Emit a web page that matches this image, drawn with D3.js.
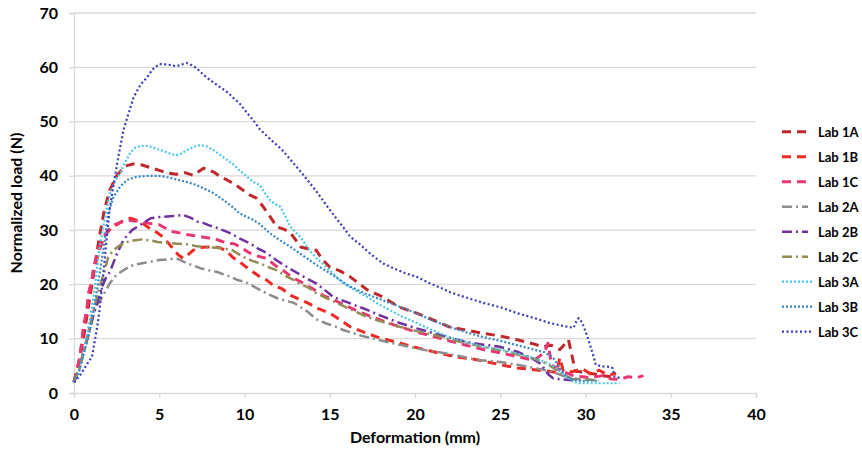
<!DOCTYPE html>
<html><head><meta charset="utf-8">
<script src="https://cdn.jsdelivr.net/npm/d3@7"></script>
<style>body{margin:0;background:#fff}svg{display:block}text{font-family:Lato,"Open Sans",sans-serif;font-weight:bold;fill:#000}</style>
</head><body><svg id="c" width="862" height="463"></svg>
<script>
const xTicks=[0,5,10,15,20,25,30,35,40];
const yTicks=[0,10,20,30,40,50,60,70];
const seriesNames=["Lab 1A","Lab 1B","Lab 1C","Lab 2A","Lab 2B","Lab 2C","Lab 3A","Lab 3B","Lab 3C"];
const lab1A=[[0,2],[0.3,5.5],[0.6,11],[0.9,17],[1.2,23],[1.5,29],[1.8,34],[2.1,37.4],[2.5,40],[3.0,41.8],[3.5,42.2],[4.0,42],[4.5,41.5],[5.0,41],[5.5,40.5],[6.0,40.3],[6.5,40.6],[7.0,40.1],[7.6,41.4],[8.2,40.7],[8.6,39.8],[9.0,39.2],[9.5,38.3],[9.9,37.4],[10.3,36.5],[10.7,35.9],[11.1,34.3],[11.5,32.5],[11.9,30.6],[12.3,30.2],[12.7,29.5],[13.3,26.9],[13.8,26.5],[14.2,26.3],[14.6,24.5],[15,23.2],[15.6,22.5],[16.2,21.4],[16.7,20.2],[17.2,19],[18.1,17.7],[19.1,15.8],[20.1,14.7],[21.1,13.4],[22,12.2],[23,11.6],[24,11],[25,10.5],[26,9.8],[27,9.0],[27.5,8.5],[28,8.8],[28.5,8.0],[29,9.8],[29.2,7],[29.4,4],[30,3.8],[30.5,3.5],[31,3.2],[31.5,3]];
const lab1B=[[0,2],[0.3,6],[0.6,12],[0.9,18],[1.2,23],[1.5,26.5],[1.8,29],[2.2,30.5],[2.5,31],[2.9,31.8],[3.3,32.2],[3.7,31.8],[4.0,31.3],[4.5,30.2],[4.9,29.5],[5.3,28.5],[5.7,27],[6.1,25.5],[6.4,24.8],[6.7,25.5],[7.0,26.3],[7.4,26.8],[7.8,26.9],[8.2,26.9],[8.6,26.7],[9.0,26],[9.3,25],[9.7,24.2],[10.1,23.2],[10.5,22.3],[10.9,21.4],[11.3,20.8],[11.7,19.8],[12.2,19.2],[12.7,18],[13.2,17.3],[13.7,16.6],[14.3,15.6],[15,14.7],[15.6,13.5],[16.2,12.2],[17,11.2],[17.8,10.3],[18.5,9.7],[19.1,9.2],[19.9,8.5],[20.7,7.9],[21.6,7.2],[22.5,6.6],[23.3,6.3],[24,5.9],[25,5.2],[26,4.6],[27,4.3],[27.8,4],[28.3,3.8],[28.5,6.5],[28.7,4],[29.2,3.9],[29.8,4.5],[30.3,3.5],[30.8,4.2],[31.3,3.3],[31.8,3.6]];
const lab1C=[[0,2],[0.2,4.5],[0.35,6.6],[0.45,9.2],[0.55,12.2],[0.75,15.3],[0.85,18.4],[1.05,20.8],[1.15,23.2],[1.4,26],[1.7,28.5],[2.0,30],[2.4,31],[2.8,31.5],[3.2,31.8],[3.6,31.7],[4.0,31.5],[4.5,31.2],[5.0,31],[5.4,30.3],[5.8,29.7],[6.2,29.5],[6.6,29.2],[7.0,29],[7.4,28.8],[7.8,28.6],[8.2,28.5],[8.6,28],[9.0,27.6],[9.4,27.5],[9.8,26.8],[10.3,25.8],[10.8,25.2],[11.3,24.8],[11.8,23.5],[12.3,22.5],[12.8,21.3],[13.3,20.5],[14,19.2],[14.6,18],[15.2,17.2],[16,16],[17,14.6],[18,13.4],[19,12.3],[20,11.3],[21,10.5],[22,9.6],[23,8.8],[24,8],[25,7.4],[26,6.7],[27,6],[27.6,7.5],[27.8,9.2],[28,5.2],[28.3,4.5],[28.8,3.8],[29.3,3.2],[29.8,3],[30.3,2.8],[31,3.2],[31.5,2.6],[32,2.5],[32.5,3],[33,2.8],[33.4,3.2]];
const lab2A=[[0,2],[0.3,4.5],[0.6,8],[0.9,11.5],[1.1,14],[1.3,16],[1.5,16.8],[1.8,18.5],[2.1,20.2],[2.5,21.8],[3.1,23],[3.5,23.6],[4.0,23.9],[4.5,24.2],[5.0,24.5],[5.5,24.6],[6.0,24.8],[6.3,24.4],[6.6,23.9],[7.0,23.5],[7.4,23],[7.9,22.6],[8.4,22.3],[8.8,21.8],[9.2,21.4],[9.6,20.8],[10.1,20.4],[10.5,19.7],[10.9,19],[11.4,18.2],[11.9,17.5],[12.4,17],[12.9,16.6],[13.3,15.8],[13.7,15],[14.2,13.6],[14.8,12.8],[15.3,12.3],[15.8,11.6],[16.8,10.6],[17.8,9.8],[18.8,9.1],[19.7,8.5],[20.6,7.9],[21.6,7.4],[22.6,6.8],[23.6,6.1],[24.4,5.9],[25,5.7],[26,5.2],[27,4.6],[27.8,4.1],[28.3,3.6],[28.8,3],[29.3,2.7],[29.7,2.5]];
const lab2B=[[0,2],[0.3,4.5],[0.6,8],[0.9,11.5],[1.2,15],[1.5,18],[1.7,20],[1.9,21.4],[2.1,22.3],[2.5,25.5],[2.9,28.2],[3.4,30],[3.9,31],[4.5,32.2],[5.0,32.4],[5.8,32.6],[6.4,32.8],[6.9,32.2],[7.2,31.6],[7.6,31.3],[8.0,30.8],[8.4,30.4],[8.8,29.9],[9.2,29.4],[9.7,28.5],[10.3,27.6],[10.8,26.6],[11.3,25.8],[11.9,24.4],[12.5,23.2],[13.1,22.1],[13.6,21.2],[14.2,20.2],[14.7,19],[15.2,17.7],[16.2,16.5],[17.2,15.3],[18.1,14.1],[19.1,12.9],[20.1,11.9],[21.1,11],[22,10.2],[23,9.4],[24,8.9],[25,8.5],[26,7.6],[26.8,6.5],[27.4,5.3],[27.8,3.5],[28.1,2.7],[28.6,2.5],[29.1,2.4],[29.5,2.4]];
const lab2C=[[0,2],[0.3,4.5],[0.6,8],[0.9,12],[1.2,16],[1.5,19.5],[1.8,22.5],[2.0,25],[2.3,26.3],[2.7,27.2],[3.1,27.8],[3.5,28.1],[4.0,28.3],[4.5,28.1],[4.9,27.8],[5.6,27.6],[6.1,27.5],[6.6,27.4],[7.1,27.1],[7.6,26.9],[8.1,26.8],[8.6,26.7],[9.0,26.5],[9.3,26.3],[9.7,25.5],[10.1,24.8],[10.5,24.3],[10.9,23.9],[11.4,23.2],[11.9,22.6],[12.4,21.6],[12.9,20.8],[13.3,20],[13.7,19.5],[14.2,18.4],[14.8,17.5],[15.4,16.6],[16.3,15.3],[17.2,14],[18.1,13.1],[19.1,12.2],[20.1,11.4],[21.1,10.7],[22,9.9],[23,9.2],[24,8.5],[25,7.9],[26,7.1],[27,6.3],[27.8,5.3],[28.3,4.2],[28.8,3.2],[29.2,2.6],[29.7,2.4],[30.2,2.5],[30.7,2.3]];
const lab3A=[[0,2],[0.3,4],[0.6,8],[0.9,13],[1.2,19],[1.5,26.9],[1.8,32],[2.1,36.8],[2.4,39],[2.7,40.5],[3.0,42.5],[3.3,44.2],[3.6,45.2],[3.9,45.5],[4.3,45.5],[4.6,45.3],[5.0,44.8],[5.4,44.4],[5.7,44],[6.0,43.8],[6.3,44.1],[6.6,44.7],[7.0,45.3],[7.4,45.7],[7.8,45.4],[8.2,44.7],[8.6,43.8],[9.0,42.9],[9.4,42],[9.7,41],[10.1,40],[10.5,38.9],[10.9,38.3],[11.2,36.8],[11.5,35.5],[11.8,34.8],[12.1,34.3],[12.4,32.5],[12.7,30.6],[13,29.6],[13.3,28.7],[13.8,26.3],[14.3,24.6],[14.8,23.2],[15.3,21.7],[15.8,20.2],[16.5,18.9],[17.2,17.7],[17.8,16.5],[18.5,15.3],[19.3,14],[20.1,12.9],[21,11.6],[22,10.3],[23,9.4],[24,8.5],[25,8],[26,7.3],[27,6.4],[27.8,5.5],[28.3,4.5],[28.8,3.2],[29.2,2.2],[29.6,1.8],[30.2,1.8],[30.8,1.8],[31.4,1.8],[32,1.8]];
const lab3B=[[0,2],[0.3,4],[0.6,7.5],[0.9,11],[1.2,16],[1.5,22],[1.8,28],[2.0,33],[2.3,36],[2.7,38],[3.1,39.2],[3.6,39.8],[4.3,40],[5.0,40],[5.4,39.8],[5.8,39.5],[6.2,39.2],[6.6,38.9],[7.0,38.5],[7.4,38],[7.8,37.4],[8.2,36.8],[8.6,35.9],[9.0,35],[9.4,34],[9.7,33.1],[10.1,32.5],[10.5,31.9],[10.9,31.1],[11.5,29.4],[12.1,28.1],[12.7,26.9],[13.3,25.6],[13.8,24.5],[14.4,23.2],[15,22.1],[15.6,20.8],[16.2,19.6],[17.1,18.3],[18.1,17.1],[19.1,15.9],[20.1,14.7],[21,13.4],[22,12.2],[23,11.2],[24,10.3],[25,9.6],[26,8.8],[27,8],[27.6,7.5],[28.1,6.5],[28.5,4.5],[28.9,3],[29.3,2.4],[29.8,2.2],[30.3,2.3],[30.8,2.2]];
const lab3C=[[0,2],[0.3,3],[0.6,4.5],[0.9,6],[1.05,6.6],[1.23,9.8],[1.4,13],[1.5,15.3],[1.7,21.4],[1.8,24.5],[1.9,28],[2.0,31],[2.1,34],[2.3,38],[2.6,43.5],[2.9,48.4],[3.2,51.5],[3.5,54.5],[3.9,56.8],[4.3,58.2],[4.6,59.6],[5.0,60.6],[5.5,60.5],[6.0,60.2],[6.6,60.8],[6.9,60.4],[7.2,59.8],[7.6,58.6],[8.0,57.6],[8.5,56.5],[9.0,55.4],[9.4,54.2],[9.7,53.4],[10.1,51.8],[10.5,50.3],[10.9,48.6],[11.5,46.8],[12.2,44.8],[12.8,42.6],[13.5,40],[14.3,36.8],[14.8,34.6],[15.3,32.5],[15.8,30.5],[16.2,28.8],[16.8,27.3],[17.4,25.6],[18.1,23.9],[18.8,22.9],[19.4,22.1],[20.1,21.4],[20.8,20.3],[21.5,19.4],[22.1,18.5],[23,17.6],[24,16.6],[25,15.8],[26,14.7],[27,13.8],[27.9,12.9],[28.6,12.4],[29.3,12],[29.5,13.5],[29.6,13.8],[29.8,13],[29.9,12.2],[30.1,10.5],[30.3,8.5],[30.5,6.5],[30.6,5.2],[31,4.9],[31.5,4.8],[31.6,4.5],[31.7,3],[32,2.8]];
const seriesData=[lab1A,lab1B,lab1C,lab2A,lab2B,lab2C,lab3A,lab3B,lab3C];
const colors=["#c0282b","#ee2a24","#ea3573","#8c8c8c","#7030a0","#948a54","#4bc6e8","#3a87c8","#3b3bbb"];
const dashes=["9 6","9 6","9 6","10 4 2 4","10 4 2 4","10 4 2 4","2 2","2 2","2 2.5"];
const widths=[3,3,3,2.5,2.5,2.5,2.2,2.2,2.2];

const svg=d3.select("#c");
const L=74,R=756,T=13,B=393;
const x=d3.scaleLinear().domain([0,40]).range([L,R]);
const y=d3.scaleLinear().domain([0,70]).range([B,T]);
const grid="#d9d9d9";
svg.append("g").selectAll("line").data(yTicks.filter(d=>d>0)).join("line")
 .attr("x1",L).attr("x2",R).attr("y1",d=>y(d)).attr("y2",d=>y(d)).attr("stroke",grid).attr("stroke-width",1.3);
const xa=svg.append("g").attr("transform",`translate(0,${B})`).call(d3.axisBottom(x).tickValues(xTicks).tickSize(5).tickPadding(11));
const ya=svg.append("g").attr("transform",`translate(${L},0)`).call(d3.axisLeft(y).tickValues(yTicks).tickSize(5).tickPadding(11));
[xa,ya].forEach(a=>{a.select(".domain").attr("stroke",grid).attr("stroke-width",1.3);a.selectAll(".tick line").attr("stroke",grid).attr("stroke-width",1.3);
 a.selectAll("text").attr("font-family","Lato, 'Open Sans', sans-serif").attr("font-weight","bold").attr("font-size",16).attr("fill","#000");});
const line=d3.line().x(d=>x(d[0])).y(d=>y(d[1]));
svg.append("g").selectAll("path").data(seriesData).join("path")
 .attr("d",line).attr("fill","none").attr("stroke",(d,i)=>colors[i]).attr("stroke-width",(d,i)=>widths[i])
 .attr("stroke-dasharray",(d,i)=>dashes[i]).attr("stroke-linejoin","round");
svg.append("text").attr("x",(L+R)/2).attr("y",443).attr("text-anchor","middle").attr("font-size",16).text("Deformation (mm)");
svg.append("text").attr("transform",`translate(22,203) rotate(-90)`).attr("text-anchor","middle").attr("font-size",16).text("Normalized load (N)");
const lg=svg.append("g").selectAll("g").data(seriesNames).join("g").attr("transform",(d,i)=>`translate(782,${131.7+i*25})`);
lg.append("line").attr("x1",0).attr("x2",(d,i)=>i>=6?30:26).attr("stroke",(d,i)=>colors[i]).attr("stroke-width",(d,i)=>widths[i]).attr("stroke-dasharray",(d,i)=>dashes[i]);
lg.append("text").attr("x",36).attr("y",5).attr("font-size",13).text(d=>d);
</script></body></html>
